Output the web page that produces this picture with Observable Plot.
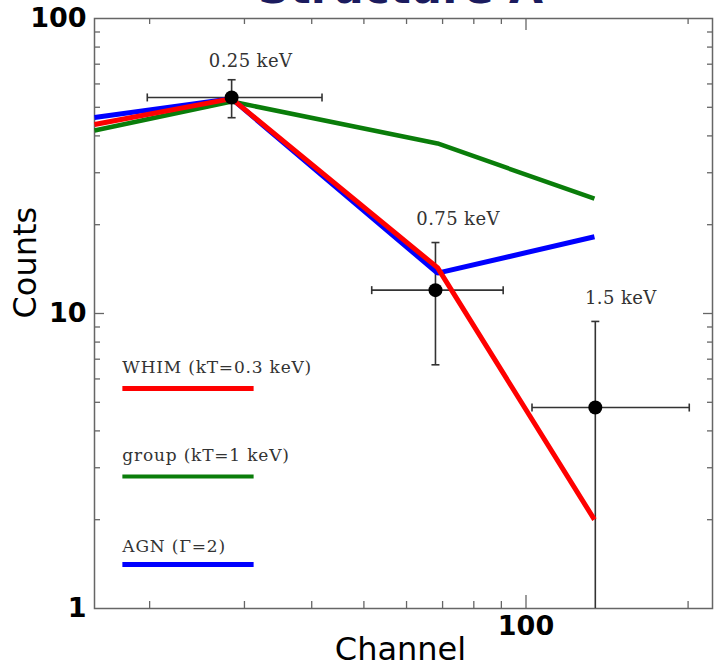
<!DOCTYPE html>
<html>
<head>
<meta charset="utf-8">
<script src="https://cdn.jsdelivr.net/npm/d3@7"></script>
<script src="https://cdn.jsdelivr.net/npm/@observablehq/plot@0.6"></script>
<style>
  body { margin: 0; background: #fff; }
  #chart svg { display: block; }
  #chart g[font-family="DejaVu Serif"][font-size="17"] text { letter-spacing: 0.8px; }
  #chart g[font-family="DejaVu Serif"][font-size="18"] text { letter-spacing: 0.4px; }
</style>
</head>
<body>
<div id="chart"></div>
<script>
// ---- data ----
const title = "Structure A";
const modelChannels = [15.8, 28.4, 68.5, 134];
const whimCounts  = [43.7, 53.5, 14.3, 2.0];
const groupCounts = [41.7, 52.3, 37.7, 24.5];
const agnCounts   = [46.2, 53.5, 13.7, 18.2];
const modelNames  = ["WHIM (kT=0.3 keV)", "group (kT=1 keV)", "AGN (\u0393=2)"];
const modelColors = ["#ff0000", "#0a7d0a", "#0000ff"];

const bandLabels = ["0.25 keV", "0.75 keV", "1.5 keV"];
const obsChannel = [28.4, 67.9, 134.5];
const obsCounts  = [54, 12.0, 4.8];
const chanLo  = [19.8, 51.7, 102.6];
const chanHi  = [41.8, 90.7, 201];
const countLo = [46.1, 6.7, 0.9];
const countHi = [62, 17.4, 9.4];

// annotation anchors (data coordinates)
const bandLabelX = [30.8, 74.8, 150];
const bandLabelY = [68.5, 20.0, 10.8];
const legendX1 = 17.8, legendX2 = 31.2;
const legendLineY = [5.57, 2.80, 1.41];
const legendTextY = [6.3, 3.15, 1.56];

const xMinor = [20, 30, 40, 50, 60, 70, 80, 90, 200];
const xMajor = [100];
const yMinor = [2, 3, 4, 5, 6, 7, 8, 9, 20, 30, 40, 50, 60, 70, 80, 90];
const yMajor = [10];
const yTickLabels = [1, 10, 100];
const xTickLabels = [100];

// ---- build tables ----
const models = [
  {name: modelNames[1], color: modelColors[1], counts: groupCounts, w: 4.5},
  {name: modelNames[2], color: modelColors[2], counts: agnCounts, w: 5},
  {name: modelNames[0], color: modelColors[0], counts: whimCounts, w: 5}
];
const modelRows = models.flatMap(m => modelChannels.map((c, i) => ({model: m.name, c, v: m.counts[i], color: m.color, w: m.w})));
const obs = bandLabels.map((b, i) => ({band: b, x: obsChannel[i], y: obsCounts[i], xl: chanLo[i], xh: chanHi[i], yl: countLo[i], yh: countHi[i], lx: bandLabelX[i], ly: bandLabelY[i]}));
const legend = modelNames.map((n, i) => ({name: n, color: modelColors[i], ly: legendLineY[i], ty: legendTextY[i], w: i === 1 ? 4 : 5}));

const W = 717, H = 669, mL = 94, mR = 5, mT = 18, mB = 61;
const fw = W - mL - mR, fh = H - mT - mB;

const vbar = {draw(ctx, size) { const r = Math.sqrt(size / Math.PI); ctx.moveTo(0, -r); ctx.lineTo(0, r); }};
const hbar = {draw(ctx, size) { const r = Math.sqrt(size / Math.PI); ctx.moveTo(-r, 0); ctx.lineTo(r, 0); }};

const tickColor = "#666";
const chart = Plot.plot({
  width: W, height: H,
  marginLeft: mL, marginRight: mR, marginTop: mT, marginBottom: mB,
  style: {fontFamily: "DejaVu Sans", background: "#fff", color: "#000", overflow: "visible"},
  x: {type: "log", domain: [15.8, 222], axis: null},
  y: {type: "log", domain: [1, 100], axis: null},
  marks: [
    // ticks (inward, all four sides)
    Plot.ruleX(xMinor, {x: d => d, insetTop: fh - 7, stroke: tickColor, strokeWidth: 1.3}),
    Plot.ruleX(xMajor, {x: d => d, insetTop: fh - 13, stroke: tickColor, strokeWidth: 1.3}),
    Plot.ruleX(xMinor, {x: d => d, insetBottom: fh - 6, stroke: tickColor, strokeWidth: 1.3}),
    Plot.ruleX(xMajor, {x: d => d, insetBottom: fh - 12, stroke: tickColor, strokeWidth: 1.3}),
    Plot.ruleY(yMinor, {y: d => d, insetRight: fw - 6, stroke: tickColor, strokeWidth: 1.3}),
    Plot.ruleY(yMajor, {y: d => d, insetRight: fw - 10, stroke: tickColor, strokeWidth: 1.3}),
    Plot.ruleY(yMinor, {y: d => d, insetLeft: fw - 5, stroke: tickColor, strokeWidth: 1.3}),
    Plot.ruleY(yMajor, {y: d => d, insetLeft: fw - 9, stroke: tickColor, strokeWidth: 1.3}),
    Plot.frame({stroke: tickColor, strokeWidth: 1.5}),
    // axes labels
    Plot.axisY({ticks: yTickLabels, tickSize: 0, tickPadding: 8, tickFormat: d => String(d), fontSize: 27, fontWeight: "bold", label: null, fill: "#000"}),
    Plot.axisX({ticks: xTickLabels, tickSize: 0, tickPadding: 7, tickFormat: d => String(d), fontSize: 27, fontWeight: "bold", label: null, fill: "#000"}),
    Plot.text(["Counts"], {frameAnchor: "left", dx: -69, dy: 5, rotate: -90, fontSize: 32, fill: "#000"}),
    Plot.text(["Channel"], {frameAnchor: "bottom", dx: -3, dy: 51, fontSize: 32, fill: "#000"}),
    Plot.text([title], {frameAnchor: "top", dx: -3, dy: -16, lineAnchor: "bottom", fontSize: 44, fontWeight: "bold", fill: "#1b1b5e"}),
    // error bars
    Plot.link(obs, {x1: "xl", x2: "xh", y1: "y", y2: "y", stroke: "#333", strokeWidth: 1.6, clip: true}),
    Plot.link(obs, {x1: "x", x2: "x", y1: "yl", y2: "yh", stroke: "#333", strokeWidth: 1.6, clip: true}),
    Plot.dot(obs, {x: "xl", y: "y", symbol: vbar, r: 4, stroke: "#333", strokeWidth: 1.6}),
    Plot.dot(obs, {x: "xh", y: "y", symbol: vbar, r: 4, stroke: "#333", strokeWidth: 1.6}),
    Plot.dot(obs, {x: "x", y: "yl", symbol: hbar, r: 4, stroke: "#333", strokeWidth: 1.6, clip: true}),
    Plot.dot(obs, {x: "x", y: "yh", symbol: hbar, r: 4, stroke: "#333", strokeWidth: 1.6}),
    // model curves
    ...models.map(m => Plot.line(modelRows.filter(r => r.model === m.name), {x: "c", y: "v", stroke: m.color, strokeWidth: m.w, clip: true, strokeLinejoin: "miter", strokeLinecap: "butt"})),
    // data points
    Plot.dot(obs, {x: "x", y: "y", r: 7, fill: "#000"}),
    Plot.text(obs, {x: "lx", y: "ly", text: "band", lineAnchor: "bottom", fontFamily: "DejaVu Serif", fontSize: 18, fill: "#333"}),
    // legend
    Plot.link(legend, {x1: legendX1, x2: legendX2, y1: "ly", y2: "ly", stroke: "color", strokeWidth: "w"}),
    Plot.text(legend, {x: legendX1, y: "ty", text: "name", textAnchor: "start", lineAnchor: "bottom", fontFamily: "DejaVu Serif", fontSize: 17, fill: "#333"})
  ]
});
document.getElementById("chart").appendChild(chart);
</script>
</body>
</html>
